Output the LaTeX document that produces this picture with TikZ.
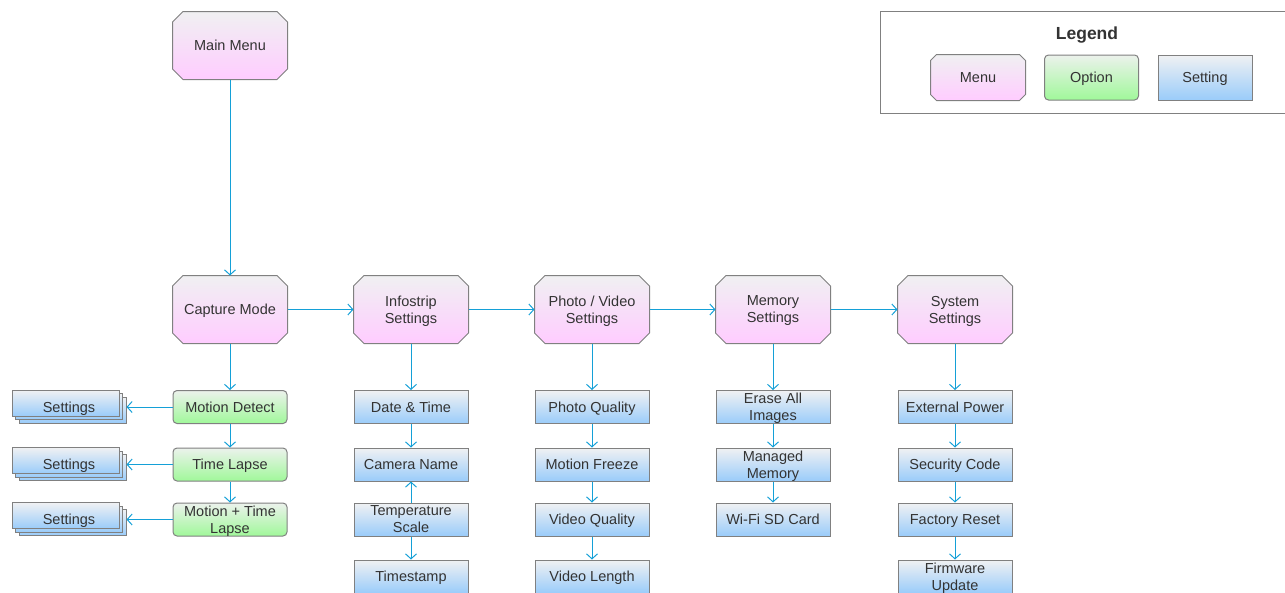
\documentclass[tikz,border=0pt]{standalone}
\usepackage{fontspec}
\setmainfont{Liberation Sans}
\usetikzlibrary{arrows.meta,backgrounds}

\definecolor{edge}{RGB}{128,128,128}
\definecolor{wire}{RGB}{20,160,215}
\definecolor{ink}{RGB}{51,51,51}
\definecolor{menutop}{RGB}{240,240,242}
\definecolor{menubot}{RGB}{255,204,255}
\definecolor{opttop}{RGB}{236,242,236}
\definecolor{optbot}{RGB}{160,248,154}
\definecolor{settop}{RGB}{240,241,243}
\definecolor{setbot}{RGB}{154,204,250}

% octagonal outline of a menu node, cut by #2 at each corner
\newcommand\menuframe[2]{%
  \path[draw=edge, line width=1pt, top color=menutop, bottom color=menubot]
    ([xshift=#2]#1.north west) -- ([xshift=-#2]#1.north east)
    -- ([yshift=-#2]#1.north east) -- ([yshift=#2]#1.south east)
    -- ([xshift=-#2]#1.south east) -- ([xshift=#2]#1.south west)
    -- ([yshift=#2]#1.south west) -- ([yshift=-#2]#1.north west) -- cycle;}

\begin{document}
\begin{tikzpicture}[x=1pt,y=-1pt,
  box/.style={line width=1pt, text=ink, align=center, inner sep=1pt,
    text depth=0pt, font=\fontsize{14.5}{17}\selectfont},
  menu/.style={box, rectangle, minimum width=114pt, minimum height=67pt},
  option/.style={box, draw=edge, rectangle, rounded corners=4pt, minimum width=114pt,
    minimum height=33pt, top color=opttop, bottom color=optbot},
  setting/.style={box, draw=edge, rectangle, minimum width=114pt, minimum height=33pt,
    top color=settop, bottom color=setbot},
  stackbox/.style={box, draw=edge, rectangle, minimum width=107pt, minimum height=26pt,
    top color=settop, bottom color=setbot},
  stacktext/.style={box},
  conn/.style={draw=wire, line width=1pt, -{Straight Barb[length=5pt,width=11pt]}},
]
\useasboundingbox (0,0) rectangle (1285,592);

% main menus
\node[menu] (main) at (230,45.5) {Main Menu};
\node[menu] (cap)  at (230,309.5) {Capture Mode};
\node[menu] (info) at (411,309.5) {Infostrip\\Settings};
\node[menu] (pv)   at (592,309.5) {Photo / Video\\Settings};
\node[menu] (mem)  at (773,309.5) {Memory\\Settings};
\node[menu] (sys)  at (955,309.5) {System\\Settings};

% capture options
\node[option] (md)  at (230,407)   {Motion Detect};
\node[option] (tl)  at (230,464.5) {Time Lapse};
\node[option] (mtl) at (230,519.5) {Motion + Time\\Lapse};

% stacked settings pages for each capture option
\foreach \n/\y in {a/407, b/464.5, c/519.5}{
  \node[stackbox] (st\n3) at (72.5,\y+3) {};
  \node[stackbox] (st\n2) at (69,\y-0.5) {};
  \node[stackbox] (st\n1) at (65.5,\y-4) {};
  \node[stacktext] (st\n) at (69,\y) {Settings};
}

% infostrip settings
\node[setting] (dt)  at (411,407)   {Date \& Time};
\node[setting] (cn)  at (411,464.5) {Camera Name};
\node[setting] (tsc) at (411,519.5) {Temperature\\Scale};
\node[setting] (tst) at (411,576.5) {Timestamp};

% photo / video settings
\node[setting] (pq) at (592,407)   {Photo Quality};
\node[setting] (mf) at (592,464.5) {Motion Freeze};
\node[setting] (vq) at (592,519.5) {Video Quality};
\node[setting] (vl) at (592,576.5) {Video Length};

% memory settings
\node[setting] (ea) at (773,407)   {Erase All\\Images};
\node[setting] (mm) at (773,464.5) {Managed\\Memory};
\node[setting] (wf) at (773,519.5) {Wi-Fi SD Card};

% system settings
\node[setting] (ep) at (955,407)   {External Power};
\node[setting] (sc) at (955,464.5) {Security Code};
\node[setting] (fr) at (955,519.5) {Factory Reset};
\node[setting] (fu) at (955,576.5) {Firmware\\Update};

% legend
\draw[draw=edge, line width=1pt] (880,11) rectangle (1292,113);
\node[text=ink, text depth=0pt, font=\bfseries\fontsize{17.5}{20}\selectfont] (legtitle) at (1087,33) {Legend};
\node[menu, minimum width=94pt, minimum height=45pt] (lgmenu) at (978,77.5) {Menu};
\node[option, minimum width=94pt, minimum height=45pt] (lgopt) at (1091.5,77.5) {Option};
\node[setting, minimum width=94pt, minimum height=45pt] (lgset) at (1205,77.5) {Setting};

% octagonal menu frames behind their labels
\begin{scope}[on background layer]
  \foreach \m in {main,cap,info,pv,mem,sys}{\menuframe{\m}{10.5pt}}
  \menuframe{lgmenu}{6pt}
\end{scope}

% connectors
\draw[conn] (main) -- (cap);
\draw[conn] (cap) -- (info);
\draw[conn] (info) -- (pv);
\draw[conn] (pv) -- (mem);
\draw[conn] (mem) -- (sys);

\draw[conn] (cap) -- (md);
\draw[conn] (md) -- (tl);
\draw[conn] (tl) -- (mtl);
\draw[conn] (md.west) -- (md.west -| sta3.east);
\draw[conn] (tl.west) -- (tl.west -| stb3.east);
\draw[conn] (mtl.west) -- (mtl.west -| stc3.east);

\draw[conn] (info) -- (dt);
\draw[conn] (dt) -- (cn);
\draw[conn] (tsc) -- (cn);
\draw[conn] (tsc) -- (tst);

\draw[conn] (pv) -- (pq);
\draw[conn] (pq) -- (mf);
\draw[conn] (mf) -- (vq);
\draw[conn] (vq) -- (vl);

\draw[conn] (mem) -- (ea);
\draw[conn] (ea) -- (mm);
\draw[conn] (mm) -- (wf);

\draw[conn] (sys) -- (ep);
\draw[conn] (ep) -- (sc);
\draw[conn] (sc) -- (fr);
\draw[conn] (fr) -- (fu);
\end{tikzpicture}
\end{document}
